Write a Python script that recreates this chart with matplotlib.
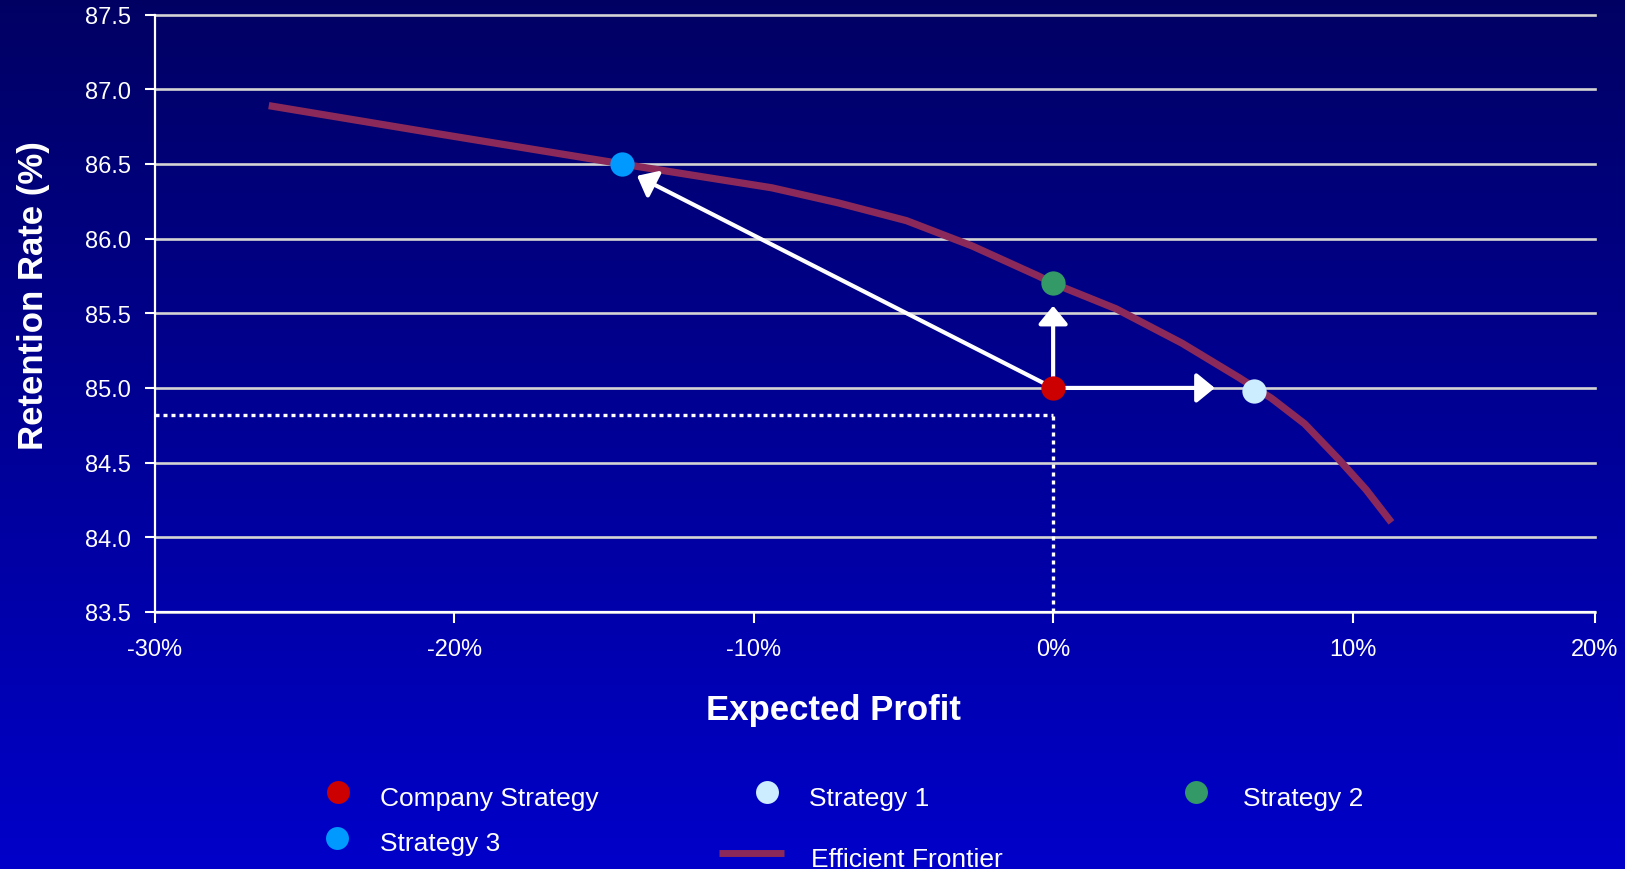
import matplotlib.pyplot as plt
import numpy as np

plt.rcParams.update({
    "font.family": ["Liberation Sans", "DejaVu Sans"],
    "text.color": "white",
})

# Efficient frontier (expected profit %, retention rate %)
frontier_profit = [-26.2, -20.5, -14.4, -13.8, -11.6, -9.4, -7.2, -4.9, -2.7, -0.5,
                   0.0, 2.1, 4.3, 6.2, 7.3, 8.4, 9.55, 10.45, 11.3]
frontier_retention = [86.89, 86.70, 86.50, 86.48, 86.41, 86.34, 86.24, 86.12, 85.95, 85.75,
                      85.70, 85.53, 85.30, 85.07, 84.93, 84.76, 84.52, 84.32, 84.10]

# Strategies
strategy_names = ["Company Strategy", "Strategy 1", "Strategy 2", "Strategy 3"]
strategy_profit = [0.0, 6.7, 0.0, -14.4]
strategy_retention = [85.0, 84.98, 85.70, 86.50]
strategy_colors = ["#cc0000", "#ccecff", "#339966", "#0099ff"]

# Arrow tips (from company strategy towards alternatives)
arrow_tip_profit = [-13.9, 0.0, 5.4]
arrow_tip_retention = [86.42, 85.55, 85.0]

# Reference level of the company strategy
ref_retention = 84.82

x_ticks = [-30, -20, -10, 0, 10, 18.1]
x_ticklabels = ["-30%", "-20%", "-10%", "0%", "10%", "20%"]
y_ticks = np.arange(83.5, 87.51, 0.5)

W, H = 1625, 870
fig = plt.figure(figsize=(W / 100, H / 100), dpi=100)

# vertical navy -> blue gradient behind everything
bg = fig.add_axes([0, 0, 1, 1], zorder=-10)
grad = np.linspace(0, 1, 256)[:, None]
rgb = np.zeros((256, 1, 3))
rgb[..., 2] = 0.39 + (0.79 - 0.39) * grad
bg.imshow(rgb, aspect="auto", extent=[0, 1, 0, 1], origin="upper")
bg.axis("off")

ax = fig.add_axes([155 / W, 1 - 613 / H, 1440 / W, 597.5 / H])
ax.set_facecolor("none")
ax.set_xlim(x_ticks[0], x_ticks[-1])
ax.set_ylim(y_ticks[0], y_ticks[-1])

for y in y_ticks:
    ax.axhline(y, color="#d4d4d4", lw=1.9, zorder=1, clip_on=False)

ax.plot(frontier_profit, frontier_retention, color="#8b2a5a", lw=5.2,
        solid_capstyle="butt", solid_joinstyle="round", zorder=3)

# dotted reference lines
ax.plot([x_ticks[0], 0], [ref_retention, ref_retention], color="white", lw=2.4,
        ls=(0, (1.2, 1.2)), zorder=2)
ax.plot([0, 0], [y_ticks[0], ref_retention], color="white", lw=2.4,
        ls=(0, (1.2, 1.2)), zorder=2)

for tx, ty in zip(arrow_tip_profit, arrow_tip_retention):
    ax.annotate("", xy=(tx, ty), xytext=(strategy_profit[0], strategy_retention[0]),
                arrowprops=dict(arrowstyle="-|>,head_length=0.55,head_width=0.45",
                                mutation_scale=20, color="white", lw=3,
                                shrinkA=0, shrinkB=0),
                zorder=4)

for px, py, c in zip(strategy_profit, strategy_retention, strategy_colors):
    ax.plot(px, py, "o", ms=17.5, color=c, mew=0, zorder=5)

ax.set_xticks(x_ticks)
ax.set_xticklabels(x_ticklabels)
ax.set_yticks(y_ticks)
ax.set_yticklabels([f"{v:.1f}" for v in y_ticks])
ax.tick_params(axis="x", direction="out", length=8, width=1.5, colors="white",
               labelsize=17, pad=11)
ax.tick_params(axis="y", direction="out", length=7.2, width=1.5, colors="white",
               labelsize=17, pad=10)
for s in ["top", "right"]:
    ax.spines[s].set_visible(False)
for s in ["left", "bottom"]:
    ax.spines[s].set_color("white")
    ax.spines[s].set_linewidth(1.6)
    ax.spines[s].set_zorder(6)

ax.set_xlabel("Expected Profit", fontsize=25, fontweight="bold", color="white",
              va="center")
ax.xaxis.set_label_coords(0.4714, -0.164)
ax.set_ylabel("Retention Rate (%)", fontsize=25, fontweight="bold", color="white",
              va="center")
ax.yaxis.set_label_coords(-0.0847, 0.531)

# legend laid out in pixel coordinates
lg = fig.add_axes([0, 0, 1, 1], zorder=5)
lg.set_xlim(0, W)
lg.set_ylim(H, 0)
lg.axis("off")
legend_marker_xy = [(338, 793), (767, 793), (1196, 793), (337, 839)]
legend_text_xy = [(380, 806), (809, 806), (1243, 806), (380, 851)]
for name, c, (mx, my), (tx, ty) in zip(strategy_names, strategy_colors,
                                       legend_marker_xy, legend_text_xy):
    lg.plot(mx, my, "o", ms=16.5, color=c, mew=0)
    lg.text(tx, ty, name, fontsize=19, color="white", va="baseline", ha="left")
lg.plot([719, 784], [854, 854], color="#8b2a5a", lw=5, solid_capstyle="butt")
lg.text(811, 867, "Efficient Frontier", fontsize=19, color="white",
        va="baseline", ha="left")

fig.savefig("out.png", dpi=100)
